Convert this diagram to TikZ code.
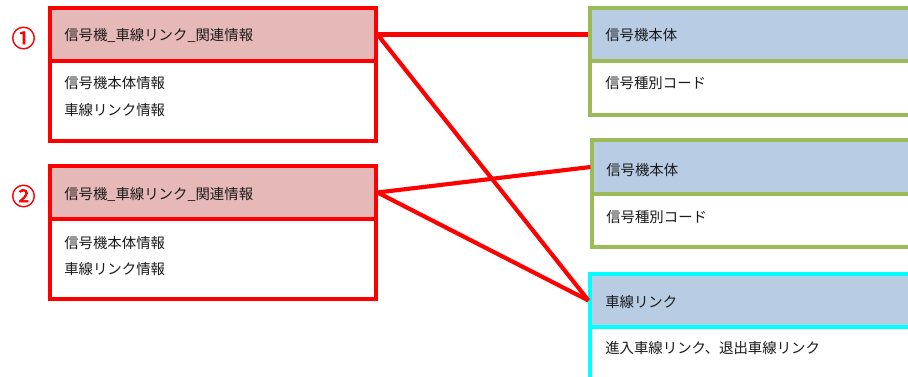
\documentclass[tikz,border=0pt]{standalone}
\usepackage{fontspec}
\setmainfont{Noto Sans CJK JP}
\newfontfamily\numfont{Noto Sans CJK JP}[FakeBold=2.5]
\usetikzlibrary{fit}
\definecolor{rbord}{HTML}{FF0000}
\definecolor{rfill}{HTML}{E6B8B7}
\definecolor{bfill}{HTML}{B8CCE4}
\definecolor{gbord}{HTML}{9BBB59}
\definecolor{cbord}{HTML}{00FFFF}
\definecolor{txt}{HTML}{1A1A1A}
\tikzset{
  box/.style={inner sep=0pt, line width=2.3pt},
  lbl/.style={anchor=west, inner sep=0pt, text=txt, font=\fontsize{10.8pt}{12pt}\selectfont},
  num/.style={text=rbord, font=\numfont\fontsize{18pt}{20pt}\selectfont, inner sep=0pt},
  link/.style={draw=rbord, line width=3.1pt}
}
\begin{document}
\begin{tikzpicture}[x=0.75pt,y=-0.75pt]
\useasboundingbox (0,0) rectangle (908,376);
\clip (0,0) rectangle (908,376);
% left box 1
\node (b1) [box, fit={(50,8) (376,141)}, draw=rbord, fill=white] {};
\node (h1) [box, fit={(50,8) (376,61)}, draw=rbord, fill=rfill] {};
\node[lbl] (t1) at (64,35) {信号機\_車線リンク\_関連情報};
\node[lbl] (t1a) at (64,83) {信号機本体情報};
\node[lbl] (t1b) at (64,110) {車線リンク情報};
\node[num] (n1) at (23.5,38) {①};
% left box 2
\node (b2) [box, fit={(50,166) (376,299)}, draw=rbord, fill=white] {};
\node (h2) [box, fit={(50,166) (376,219)}, draw=rbord, fill=rfill] {};
\node[lbl] (t2) at (64,194) {信号機\_車線リンク\_関連情報};
\node[lbl] (t2a) at (64,243) {信号機本体情報};
\node[lbl] (t2b) at (64,269) {車線リンク情報};
\node[num] (n2) at (23.5,196) {②};
% right box A
\node (bA) [box, fit={(590,8) (930,115)}, draw=gbord, fill=white] {};
\node (hA) [box, fit={(590,8) (930,61)}, draw=gbord, fill=bfill] {};
\node[lbl] (tA) at (605,35) {信号機本体};
\node[lbl] (tAa) at (605,83) {信号種別コード};
% right box B
\node (bB) [box, fit={(592,140) (930,247)}, draw=gbord, fill=white] {};
\node (hB) [box, fit={(592,140) (930,194)}, draw=gbord, fill=bfill] {};
\node[lbl] (tB) at (606,170) {信号機本体};
\node[lbl] (tBa) at (606,217) {信号種別コード};
% right box C
\node (bC) [box, fit={(590,274) (930,400)}, draw=cbord, fill=white] {};
\node (hC) [box, fit={(590,274) (930,327)}, draw=cbord, fill=bfill] {};
\node[lbl] (tC) at (605,302) {車線リンク};
\node[lbl] (tCa) at (605,348) {進入車線リンク、退出車線リンク};
% connectors
\draw[link] (h1.east) -- (hA.west);
\draw[link] (h1.east) -- (hC.west);
\draw[link] (h2.east) -- (hB.west);
\draw[link] (h2.east) -- (hC.west);
\end{tikzpicture}
\end{document}
